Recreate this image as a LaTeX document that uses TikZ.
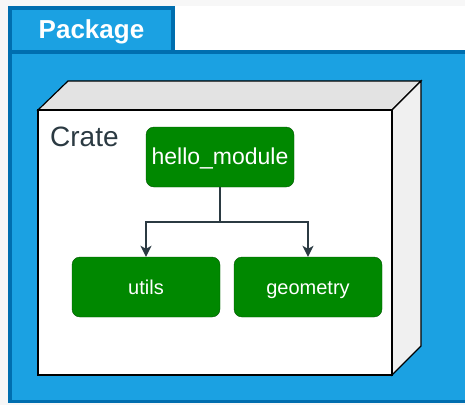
\documentclass[tikz,border=0pt]{standalone}
\usepackage{fontspec}
\setmainfont{Liberation Sans}
\usetikzlibrary{arrows.meta}

\definecolor{bggrey}{HTML}{F7F7F7}
\definecolor{pkgblue}{HTML}{1BA1E2}
\definecolor{pkgline}{HTML}{006EAF}
\definecolor{modgreen}{HTML}{008800}
\definecolor{modline}{HTML}{005700}
\definecolor{wirecol}{HTML}{2B3A42}
\definecolor{topface}{HTML}{E3E3E3}
\definecolor{sideface}{HTML}{F0F0F0}

\tikzset{
	module/.style={draw=modline, fill=modgreen, text=white, rounded corners=8pt,
		minimum width=148pt, minimum height=60pt, inner sep=0pt,
		text height=1.5em, text depth=0em},
	wire/.style={draw=wirecol, line width=1.5pt, -{Stealth[length=11pt,width=11pt,inset=3pt]}}
}

\begin{document}
\begin{tikzpicture}[x=1pt,y=-1pt]
	\useasboundingbox[fill=bggrey] (0,0) rectangle (465,405);
	\fill[white] (8,6) rectangle (465,50);

	% package frame and tab
	\draw[draw=pkgline, fill=pkgblue, line width=3.5pt] (10,52) rectangle (475,401.5);
	\draw[draw=pkgline, fill=pkgblue, line width=3.5pt] (10,8) rectangle (173,52);
	\node[white, font=\bfseries\fontsize{26}{30}\selectfont] (pkg) at (91.5,32) {Package};

	% crate box
	\draw[black, line width=1.2pt, fill=topface] (38,110) -- (68,81) -- (421,81) -- (392,110) -- cycle;
	\draw[black, line width=1.2pt, fill=sideface] (392,110) -- (421,81) -- (421,346) -- (392,375) -- cycle;
	\draw[black, line width=1.2pt, fill=white] (38,110) rectangle (392,375);
	\node[text=wirecol, anchor=north west, inner sep=0pt, font=\fontsize{28}{32}\selectfont] (crate) at (50,127) {Crate};

	% modules
	\node[module, font=\fontsize{23}{27}\selectfont] (hello) at (220,157) {hello\_module};
	\node[module, font=\fontsize{20}{24}\selectfont] (utils) at (146,287) {utils};
	\node[module, font=\fontsize{20}{24}\selectfont] (geo) at (308,287) {geometry};

	\coordinate (split) at (220,222);
	\draw[wire, -] (hello.south) -- (split);
	\draw[wire] (split) -| (utils.north);
	\draw[wire] (split) -| (geo.north);
\end{tikzpicture}
\end{document}
